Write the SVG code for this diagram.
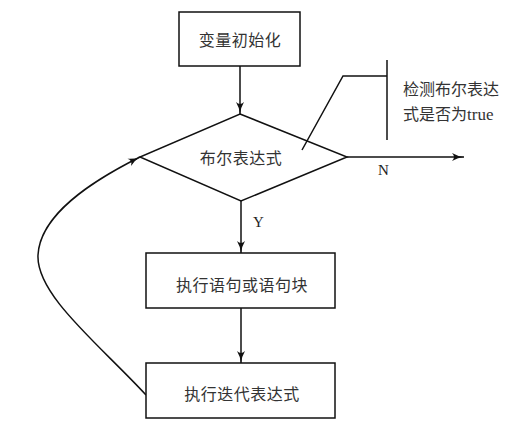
<svg xmlns="http://www.w3.org/2000/svg" width="515" height="433" viewBox="0 0 515 433">
<style>
.box{fill:#fff;stroke:#111;stroke-width:1.5}
.ln{fill:none;stroke:#111;stroke-width:1.5}
.t{font-family:"Noto Sans CJK SC","Liberation Serif",serif;font-size:16px;fill:#333;text-anchor:middle;dominant-baseline:central;letter-spacing:0.5px}
.lt{font-family:"Liberation Serif","Noto Sans CJK SC",serif;font-size:15px;fill:#222}
.nt{font-family:"Noto Sans CJK SC","Liberation Serif",serif;font-size:16px;fill:#333}
</style>
<defs>
<marker id="ah" viewBox="0 0 12 10" refX="12" refY="5" markerWidth="12" markerHeight="10" markerUnits="userSpaceOnUse" orient="auto">
<path d="M0,1 Q6,4.5 12,5 Q6,5.5 0,9 Q4,5 0,1 Z" fill="#111"/>
</marker>
</defs>
<rect width="515" height="433" fill="#fff"/>
<g id="connectors">
<line class="ln" x1="240" y1="66" x2="240" y2="114" marker-end="url(#ah)"/>
<line class="ln" x1="347" y1="157" x2="464" y2="157" marker-end="url(#ah)"/>
<line class="ln" x1="241" y1="201" x2="241" y2="253" marker-end="url(#ah)"/>
<line class="ln" x1="241" y1="308" x2="241" y2="363" marker-end="url(#ah)"/>
<path class="ln" d="M146,395 C100,345 36,295 38,255 C40,215 90,182 140,157" marker-end="url(#ah)"/>
<text class="lt" x="378" y="175">N</text>
<text class="lt" x="253" y="227">Y</text>
</g>
<g id="init">
<rect class="box" x="179" y="12" width="121" height="54"/>
<text class="t" x="240" y="39">变量初始化</text>
</g>
<g id="cond">
<polygon class="box" points="240,114 347,157 241,201 140,157"/>
<text class="t" x="241" y="157">布尔表达式</text>
</g>
<g id="body">
<rect class="box" x="146" y="253" width="189" height="55"/>
<text class="t" x="242" y="284">执行语句或语句块</text>
</g>
<g id="iter">
<rect class="box" x="146" y="363" width="189" height="55"/>
<text class="t" x="242" y="393">执行迭代表达式</text>
</g>
<g id="note">
<line class="ln" x1="387" y1="60" x2="387" y2="140"/>
<polyline class="ln" points="387,76 343,76 302,150"/>
<text class="nt" x="403" y="95">检测布尔表达</text>
<text class="nt" x="403" y="120">式是否为<tspan font-family="Liberation Serif" font-size="17">true</tspan></text>
</g>
</svg>
